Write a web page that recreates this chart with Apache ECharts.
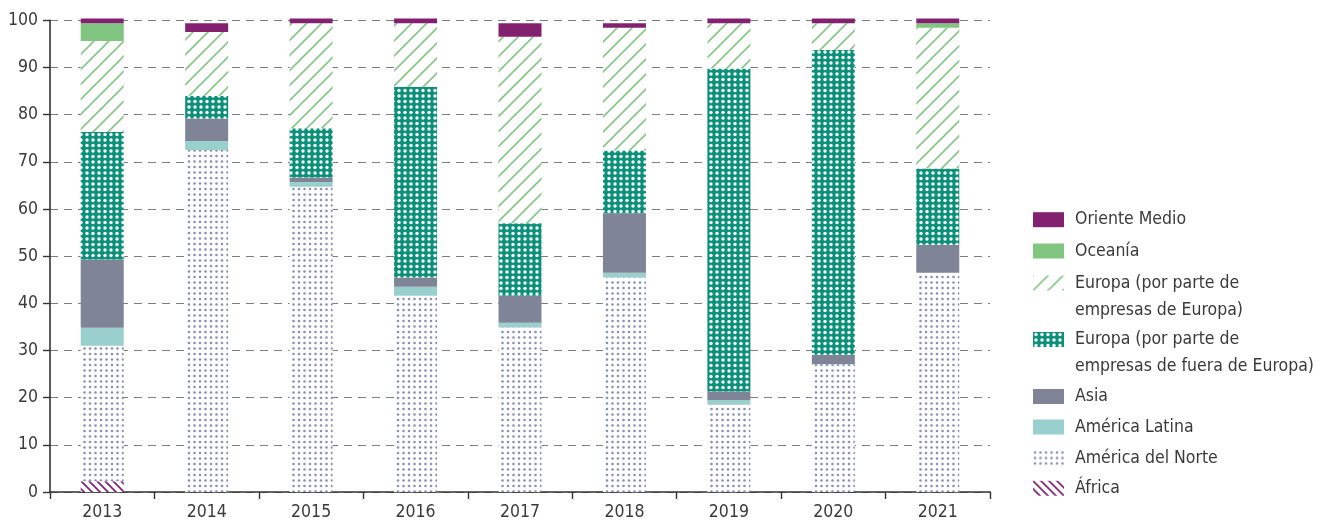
<!DOCTYPE html>
<html>
<head>
<meta charset="utf-8">
<script src="https://cdn.jsdelivr.net/npm/echarts@6/dist/echarts.min.js"></script>
<style>
  html, body { margin: 0; padding: 0; background: #fff; }
  #chart { width: 1322px; height: 523px; }
</style>
</head>
<body>
<div id="chart"></div>
<script>
// Investment share by region of origin, per year (%), stacked bottom to top
const years = ['2013', '2014', '2015', '2016', '2017', '2018', '2019', '2020', '2021'];
const africa              = [2.3, 0, 0, 0, 0, 0, 0, 0, 0];
const northAmerica        = [28.7, 72.5, 64.7, 41.6, 34.9, 45.5, 18.5, 27.1, 46.5];
const latinAmerica        = [3.8, 1.9, 1.0, 1.9, 1.0, 1.0, 1.0, 0, 0];
const asia                = [14.5, 4.8, 1.0, 2.0, 5.7, 12.6, 1.8, 2.0, 5.9];
const europeByNonEuropean = [27.0, 4.8, 10.4, 40.4, 15.4, 13.3, 68.5, 64.6, 16.2];
const europeByEuropean    = [19.3, 13.5, 22.3, 13.5, 39.5, 26.0, 9.6, 5.7, 29.8];
const oceania             = [3.8, 0, 0, 0, 0, 0, 0, 0, 1.0];
const middleEast          = [1.0, 1.9, 1.0, 1.0, 2.9, 1.0, 1.0, 1.0, 1.0];
const yMax = 100;
const yStep = 10;

const FONT = '"Liberation Sans Narrow", "Arial Narrow", "DejaVu Sans Condensed", sans-serif';
const TEXT = '#3a3a3a';

// small repeating canvas tiles used as bar fills
function tile(w, h, draw) {
  const c = document.createElement('canvas');
  c.width = w; c.height = h;
  const g = c.getContext('2d');
  draw(g, w, h);
  return { image: c, repeat: 'repeat' };
}
function dot(g, x, y, r) { g.beginPath(); g.arc(x, y, r, 0, Math.PI * 2); g.fill(); }

const dotsNorthAmerica = tile(11, 11, (g) => {
  g.fillStyle = '#fff'; g.fillRect(0, 0, 11, 11);
  g.fillStyle = '#8990b5';
  [[2, 2], [7.5, 2], [2, 7.5], [7.5, 7.5]].forEach(([x, y]) => dot(g, x, y, 1.3));
});
const dotsEuropeNonEU = tile(6, 11, (g) => {
  g.fillStyle = '#0b917a'; g.fillRect(0, 0, 6, 11);
  g.fillStyle = '#fff';
  [[3, 2.5], [3, 8]].forEach(([x, y]) => dot(g, x, y, 1.7));
});
const hatchEuropeEU = tile(15, 15, (g) => {
  g.fillStyle = '#fff'; g.fillRect(0, 0, 15, 15);
  g.strokeStyle = '#84c784'; g.lineWidth = 1.6;
  [[-1, 16, 16, -1], [-8.5, 8.5, 8.5, -8.5], [6.5, 23.5, 23.5, 6.5]].forEach(([a, b, c, d]) => {
    g.beginPath(); g.moveTo(a, b); g.lineTo(c, d); g.stroke();
  });
});
const hatchAfrica = tile(8, 8, (g) => {
  g.fillStyle = '#fff'; g.fillRect(0, 0, 8, 8);
  g.strokeStyle = '#7f2171'; g.lineWidth = 1.7;
  [[-1, -1, 9, 9], [-5, 3, 5, 13], [3, -5, 13, 5]].forEach(([a, b, c, d]) => {
    g.beginPath(); g.moveTo(a, b); g.lineTo(c, d); g.stroke();
  });
});

const NAME_AFR = 'África';
const NAME_NAM = 'América del Norte';
const NAME_LAT = 'América Latina';
const NAME_ASI = 'Asia';
const NAME_EUX = 'Europa (por parte de\nempresas de fuera de Europa)';
const NAME_EUE = 'Europa (por parte de\nempresas de Europa)';
const NAME_OCE = 'Oceanía';
const NAME_MEO = 'Oriente Medio';

function bar(name, data, color) {
  return {
    name, type: 'bar', stack: 'total', data,
    barWidth: 43, clip: false,
    itemStyle: { color },
    emphasis: { disabled: true }
  };
}

const series = [
  bar(NAME_AFR, africa, hatchAfrica),
  bar(NAME_NAM, northAmerica, dotsNorthAmerica),
  bar(NAME_LAT, latinAmerica, '#99cfcc'),
  bar(NAME_ASI, asia, '#808497'),
  bar(NAME_EUX, europeByNonEuropean, dotsEuropeNonEU),
  bar(NAME_EUE, europeByEuropean, hatchEuropeEU),
  bar(NAME_OCE, oceania, '#80c680'),
  bar(NAME_MEO, middleEast, '#832170')
];

// one legend block per entry; two-line labels get a leading empty line so the
// swatch (centred on the text block) sits beside their first line
const LINE_H = 27;
const legendEntries = [
  [NAME_MEO, 219.7, 1],
  [NAME_OCE, 251, 1],
  [NAME_EUE, 283, 2],
  [NAME_EUX, 339.5, 2],
  [NAME_ASI, 396.5, 1],
  [NAME_LAT, 427, 1],
  [NAME_NAM, 458, 1],
  [NAME_AFR, 488.3, 1]
];
const legend = legendEntries.map(([name, cy, lines]) => ({
  data: [name],
  left: 1033,
  top: lines === 1 ? cy - LINE_H / 2 : cy - LINE_H * 1.5,
  orient: 'vertical',
  padding: 0,
  icon: 'rect',
  itemWidth: 31,
  itemHeight: 15,
  selectedMode: false,
  itemStyle: { borderWidth: 0 },
  formatter: lines === 1 ? '{name}' : (n) => '\n' + n,
  textStyle: {
    fontFamily: FONT, fontSize: 17.5, color: TEXT, lineHeight: LINE_H,
    padding: [0, 0, 0, 6]
  }
}));

const chart = echarts.init(document.getElementById('chart'), null, { renderer: 'canvas' });
chart.setOption({
  animation: false,
  backgroundColor: '#fff',
  textStyle: { fontFamily: FONT },
  grid: { left: 50, right: 332, top: 20.3, bottom: 31, containLabel: false, outerBoundsMode: 'none' },
  legend,
  xAxis: {
    type: 'category',
    data: years,
    axisLine: { show: true, lineStyle: { color: '#333', width: 1.6 } },
    axisTick: { show: true, length: 7, lineStyle: { color: '#333', width: 1.4 } },
    axisLabel: { fontFamily: FONT, fontSize: 17.5, color: TEXT, margin: 11 },
    splitLine: { show: false }
  },
  yAxis: {
    type: 'value',
    min: 0, max: yMax, interval: yStep,
    axisLine: { show: true, lineStyle: { color: '#333', width: 1.6 } },
    axisTick: { show: true, length: 7, lineStyle: { color: '#333', width: 1.4 } },
    axisLabel: { fontFamily: FONT, fontSize: 17.5, color: TEXT, margin: 12 },
    splitLine: { show: true, lineStyle: { color: '#7d7d7d', width: 1, type: [8, 6] } }
  },
  series
});
</script>
</body>
</html>
